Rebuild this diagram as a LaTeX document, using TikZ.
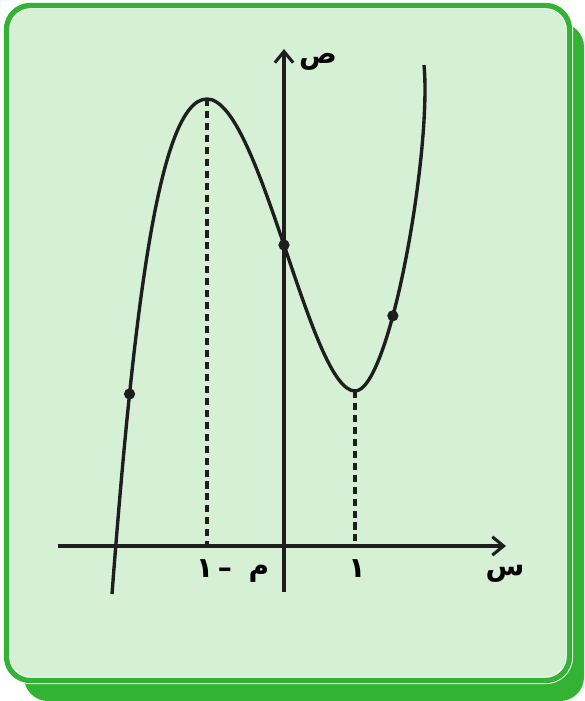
\documentclass[tikz,border=0pt]{standalone}
\usepackage{fontspec}
\usepackage{tikz}
\usetikzlibrary{arrows.meta}
\newfontfamily\arabicfont[Script=Arabic]{DejaVu Sans}
\TeXXeTstate=1
\definecolor{frameGreen}{RGB}{51,179,51}
\definecolor{panelGreen}{RGB}{214,240,214}
\definecolor{inkBlack}{RGB}{30,30,30}

\begin{document}
\begin{tikzpicture}[x=0.025cm, y=-0.025cm, >={Straight Barb[length=8pt,width=13pt]},
  axis/.style={line width=2.2pt, draw=inkBlack},
  curve/.style={line width=2.4pt, draw=inkBlack},
  guide/.style={line width=2.4pt, draw=inkBlack, dash pattern=on 5pt off 3.5pt},
  lbl/.style={font=\arabicfont\bfseries\fontsize{20}{24}\selectfont, inner sep=0pt, text=black},
  dot/.style={circle, fill=inkBlack, inner sep=0pt, minimum size=8pt}]
\useasboundingbox (0,0) rectangle (584,701);
%--- Frame ---
\fill[frameGreen, rounded corners=17pt] (24,23) rectangle (584,701);
\draw[white, line width=5.2pt, fill=panelGreen, rounded corners=17pt] (6.5,5.5) rectangle (569.5,680.5);
\draw[frameGreen, line width=3.8pt, rounded corners=17pt] (6.5,5.5) rectangle (569.5,680.5);
%--- Axes ---
\coordinate (O) at (284,546);
\coordinate (xL) at (58,546);
\coordinate (xR) at (506,546);
\coordinate (yB) at (284,592);
\coordinate (yT) at (284,49);
% Graph
\path (112,594) .. controls (133,320) and (158,99) .. (207,99) coordinate[pos=0.26] (pA) coordinate (mx)
  .. controls (260,99) and (310,391) .. (355,391) coordinate[pos=0.5] (pB) coordinate (mn)
  .. controls (390,391) and (432,150) .. (424,65) coordinate[pos=0.36] (pC) coordinate (gEnd);
% Dashed guides
\draw[guide] (mx) -- (mx |- O);
\draw[guide] (mn) -- (mn |- O);
\draw[axis, ->] (xL) -- (xR);
\draw[axis, ->] (yB) -- (yT);
\draw[curve] (112,594) .. controls (133,320) and (158,99) .. (mx)
  .. controls (260,99) and (310,391) .. (mn)
  .. controls (390,391) and (432,150) .. (gEnd);
\node[dot] (dA) at (pA) {};
\node[dot] (dB) at (pB) {};
\node[dot] (dC) at (pC) {};
% Labels
\node[lbl] (yLbl) at (318,62) {\beginR ص\endR};
\node[lbl] (xLbl) at (505,574) {\beginR س\endR};
\node[lbl] (oLbl) at (259,574) {\beginR م\endR};
\node[lbl] (oneLbl) at (357,569) {١};
\node[lbl] (mOneLbl) at (214,569) {\beginR –\,١\endR};
\end{tikzpicture}
\end{document}
